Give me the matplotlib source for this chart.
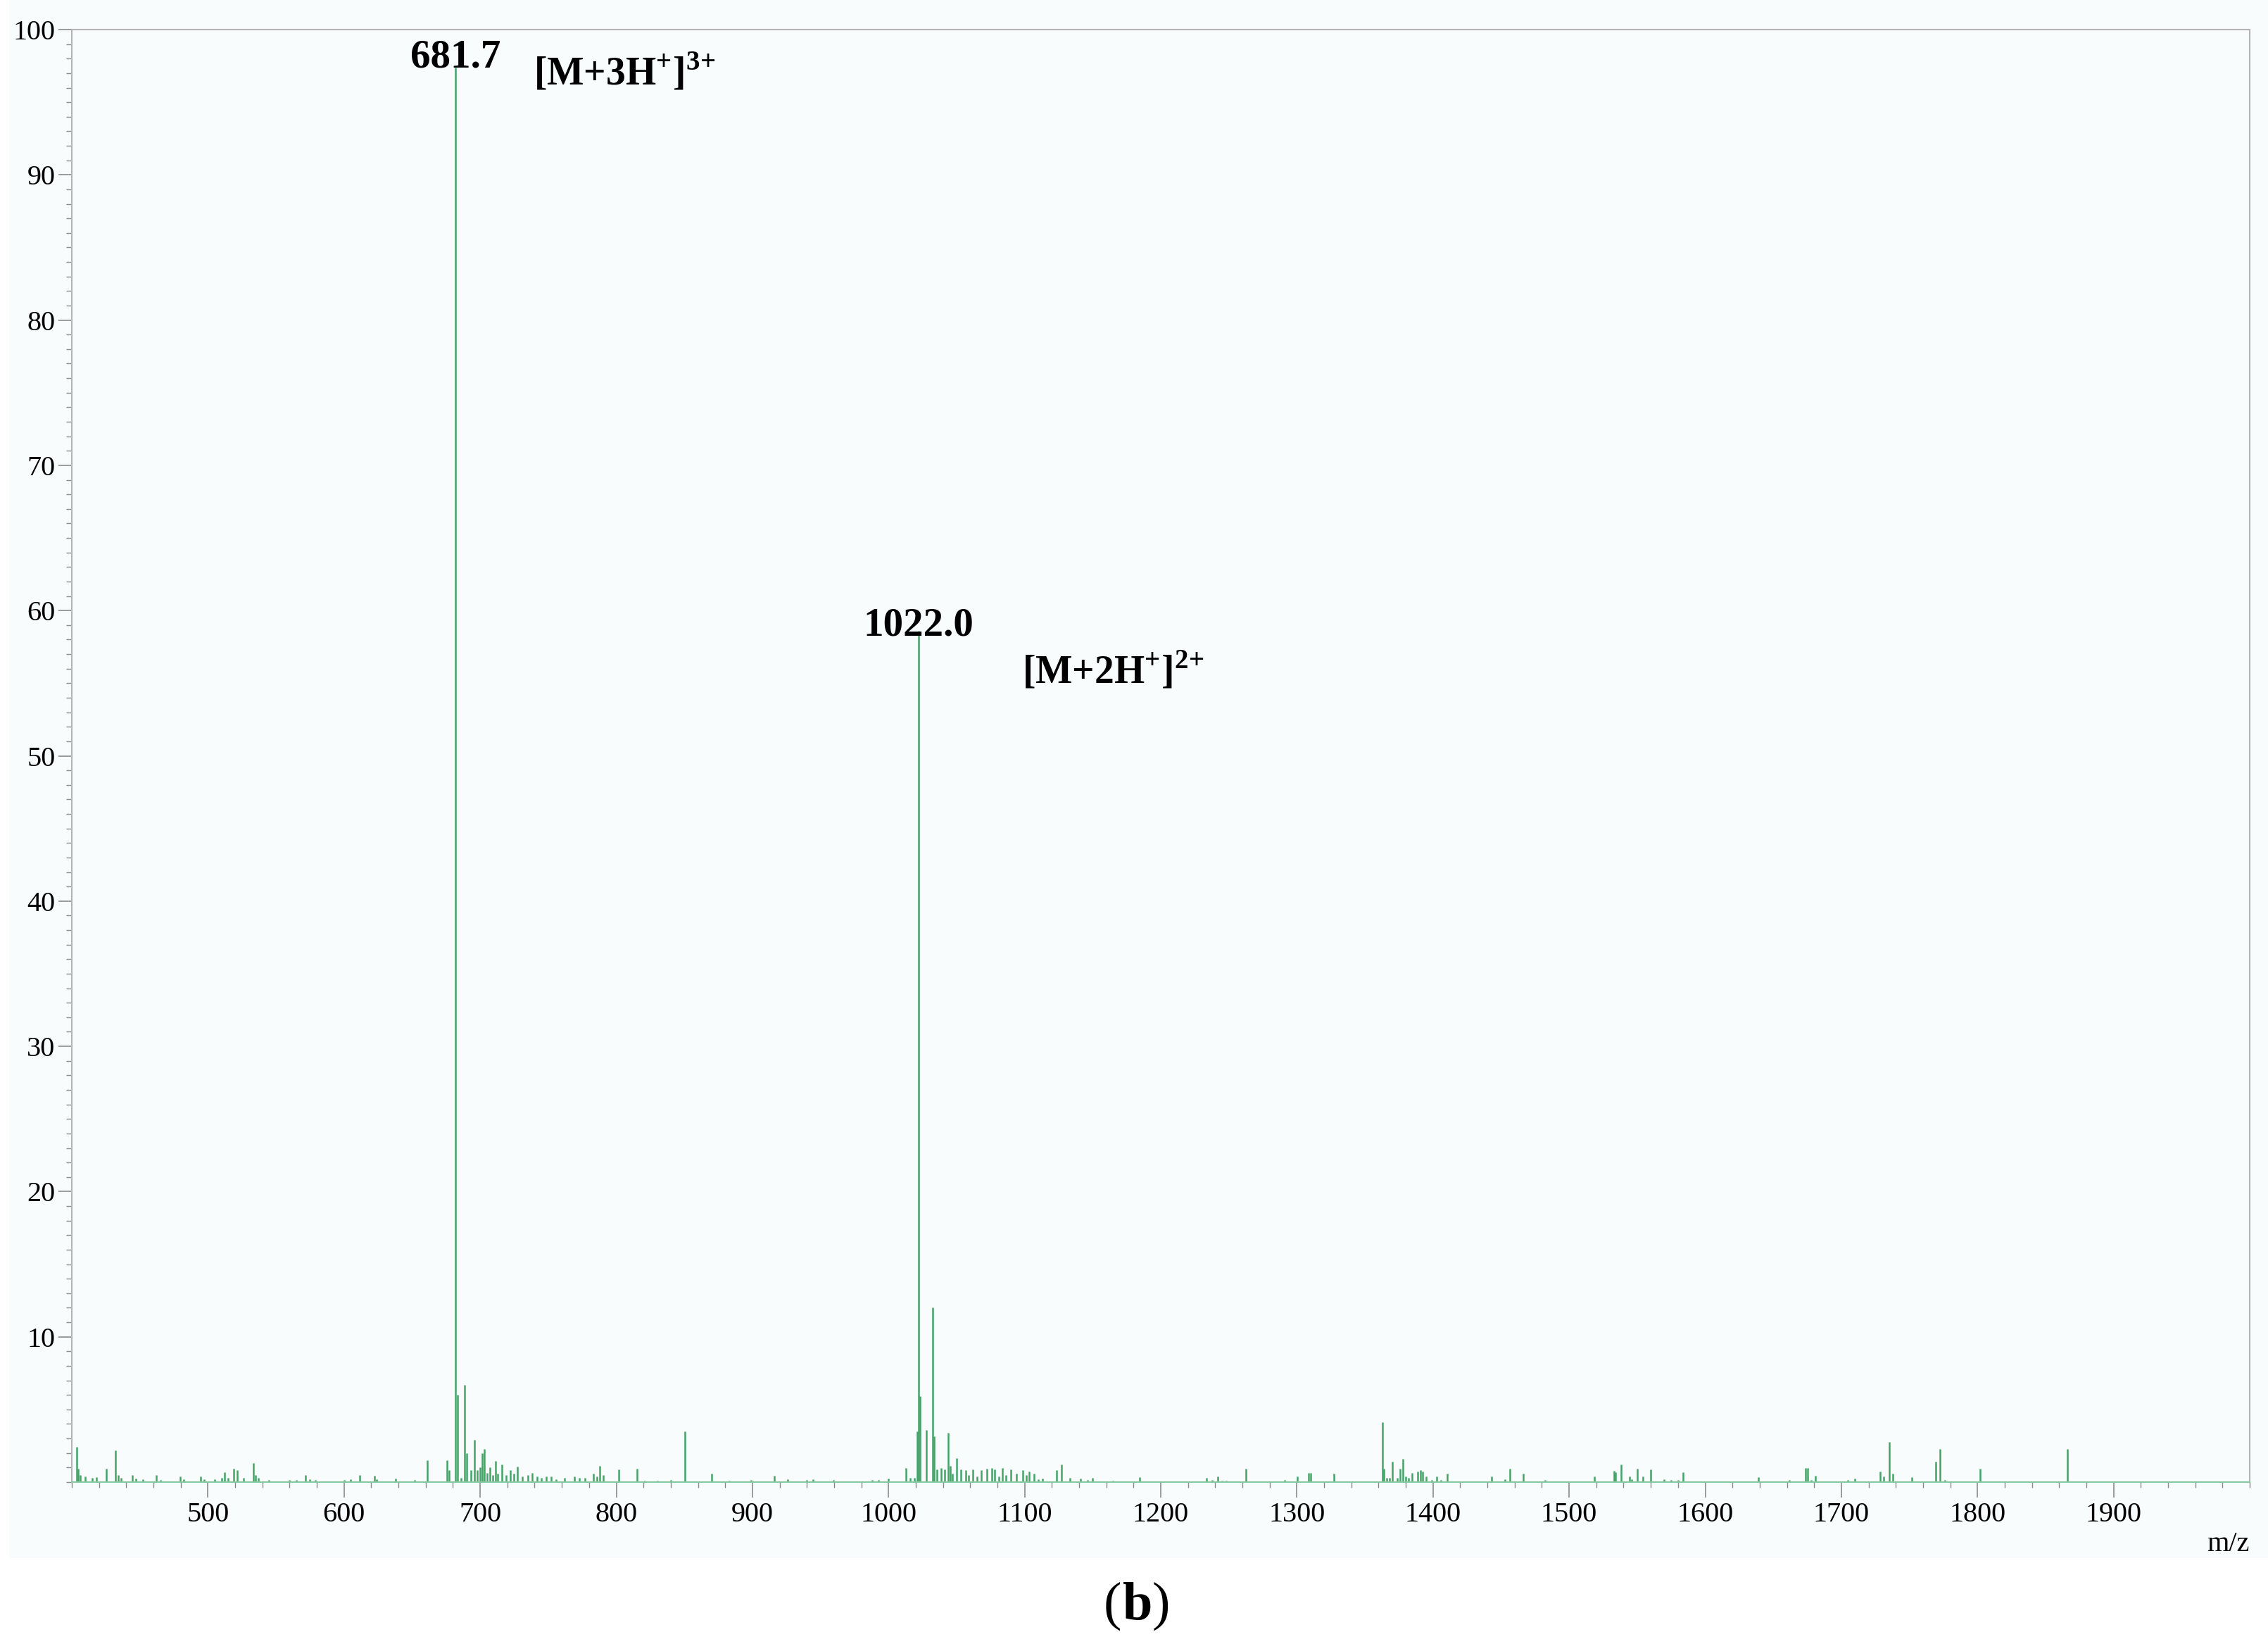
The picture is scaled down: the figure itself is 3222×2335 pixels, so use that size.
import numpy as np
import matplotlib
matplotlib.use('Agg')
import matplotlib.pyplot as plt
from matplotlib.ticker import MultipleLocator
from matplotlib.patches import Rectangle

plt.rcParams['font.family'] = ['Liberation Serif', 'DejaVu Serif']
plt.rcParams['mathtext.fontset'] = 'custom'
plt.rcParams['mathtext.rm'] = 'Liberation Serif:bold'
plt.rcParams['mathtext.bf'] = 'Liberation Serif:bold'

# peak list (m/z, relative abundance %)
mz = [403.8, 404.5, 406, 410, 415, 418, 425.3, 432.3, 434, 436, 444.4, 447, 452,
      461.8, 465, 479.8, 482, 494.8, 497, 505, 510, 512.4, 515, 519.1, 521.7, 526,
      533.4, 535, 537, 545, 560, 565, 571.9, 575, 579, 600, 605, 611.7, 622.6, 624,
      638, 652, 661.3, 675.8, 677, 681.7, 683.3, 686, 688.8, 690, 693, 696, 698, 700,
      701.7, 703.2, 705, 707, 709, 711.5, 713, 716, 719, 722, 725, 727.5, 731, 735,
      738.4, 742, 745, 748.7, 752, 756, 762, 769.4, 773, 777, 783.4, 786, 788, 790.6,
      802, 815.4, 821, 830, 840, 850.3, 870.2, 883, 899, 916.2, 926, 940, 944.4,
      959.7, 988, 992.5, 999.7, 1012.6, 1016, 1019, 1021.0, 1022.0, 1023.4, 1028,
      1032.3, 1033.5, 1035.4, 1038.8, 1041.4, 1043.8, 1045.3, 1047, 1049.9, 1053,
      1056.9, 1059, 1062, 1065, 1068.3, 1072.4, 1076, 1078.1, 1081, 1083.8, 1086,
      1089.8, 1094.1, 1098.8, 1101, 1103.2, 1107, 1110, 1113.3, 1123.6, 1127, 1133.2,
      1140.9, 1146, 1149.9, 1164.9, 1184.6, 1233.7, 1238, 1242, 1245, 1248, 1262.7,
      1291.1, 1300.2, 1308.4, 1310.2, 1327.1, 1362.9, 1364, 1366, 1368, 1370.2, 1374,
      1376, 1377.7, 1380, 1382, 1384.7, 1388.6, 1390.6, 1392.4, 1395, 1399, 1402.8,
      1406, 1410.6, 1442.9, 1453, 1456.3, 1466.5, 1482.5, 1518.6, 1532.9, 1534,
      1538.1, 1544.3, 1546, 1550.1, 1554, 1559.7, 1570, 1575, 1580, 1583.6, 1638.9,
      1661.7, 1673.6, 1675.3, 1678, 1681, 1704.6, 1709.7, 1728.6, 1731, 1735.3,
      1737.7, 1752, 1769.5, 1772.4, 1776, 1801.7, 1866.2]
abund = [2.4, 0.9, 0.5, 0.4, 0.3, 0.35, 0.9, 2.2, 0.5, 0.3, 0.5, 0.25, 0.2,
         0.5, 0.15, 0.4, 0.2, 0.4, 0.2, 0.2, 0.3, 0.7, 0.3, 0.9, 0.8, 0.3,
         1.3, 0.5, 0.3, 0.15, 0.15, 0.15, 0.5, 0.2, 0.15, 0.15, 0.2, 0.5, 0.45, 0.2,
         0.25, 0.16, 1.5, 1.5, 0.8, 97.4, 6.0, 0.3, 6.7, 2.0, 0.8, 2.9, 0.8, 1.0,
         2.0, 2.26, 0.65, 1.0, 0.5, 1.45, 0.6, 1.2, 0.5, 0.8, 0.6, 1.08, 0.4, 0.5,
         0.65, 0.4, 0.3, 0.4, 0.4, 0.2, 0.3, 0.4, 0.3, 0.3, 0.56, 0.4, 1.1, 0.5,
         0.86, 0.9, 0.1, 0.1, 0.15, 3.5, 0.6, 0.1, 0.16, 0.44, 0.2, 0.15, 0.2,
         0.16, 0.15, 0.16, 0.24, 0.97, 0.3, 0.3, 3.5, 58.6, 5.9, 3.6,
         12.0, 3.15, 0.89, 0.97, 0.89, 3.4, 1.13, 0.6, 1.66, 0.89,
         0.81, 0.5, 0.89, 0.4, 0.81, 0.92, 0.97, 0.89, 0.4, 0.97, 0.5,
         0.89, 0.56, 0.84, 0.5, 0.73, 0.56, 0.2, 0.24, 0.81, 1.2, 0.27,
         0.24, 0.15, 0.29, 0.11, 0.32, 0.3, 0.15, 0.4, 0.12, 0.12, 0.92,
         0.16, 0.4, 0.65, 0.65, 0.6, 4.1, 0.9, 0.3, 0.3, 1.4, 0.3,
         0.9, 1.6, 0.4, 0.3, 0.65, 0.73, 0.8, 0.73, 0.4, 0.15, 0.4,
         0.15, 0.6, 0.4, 0.2, 0.9, 0.6, 0.16, 0.4, 0.76, 0.7,
         1.2, 0.4, 0.2, 0.92, 0.4, 0.86, 0.2, 0.15, 0.15, 0.7, 0.32,
         0.16, 0.97, 0.97, 0.15, 0.44, 0.16, 0.24, 0.73, 0.37, 2.75,
         0.6, 0.32, 1.4, 2.3, 0.16, 0.92, 2.3]

x_ticks = [500, 600, 700, 800, 900, 1000, 1100, 1200, 1300, 1400, 1500, 1600, 1700, 1800, 1900]
y_ticks = [10, 20, 30, 40, 50, 60, 70, 80, 90, 100]

W, H = 3222, 2335
fig = plt.figure(figsize=(W / 100, H / 100), dpi=100, facecolor='white')
# light tinted screenshot area behind the chart
bg = Rectangle((0.004, 1 - 2213 / H), 0.996, 2213 / H, transform=fig.transFigure,
               facecolor='#f8fcfc', edgecolor='none', zorder=-10)
fig.add_artist(bg)

ax = fig.add_axes([102 / W, 1 - 2105 / H, (3196 - 102) / W, (2105 - 42) / H])
ax.set_zorder(1)
ax.set_facecolor('#f8fcfc')

ax.vlines(mz, 0, abund, color='#44a366', linewidth=1.8)

ax.set_xlim(400, 2000)
ax.set_ylim(0, 100)
ax.set_xticks(x_ticks)
ax.set_yticks(y_ticks)
ax.xaxis.set_minor_locator(MultipleLocator(20))
ax.yaxis.set_minor_locator(MultipleLocator(1))

for side in ['left', 'top', 'right']:
    ax.spines[side].set_color('#b5b5b5')
    ax.spines[side].set_linewidth(1.5)
ax.spines['bottom'].set_color('#86c9a0')
ax.spines['bottom'].set_linewidth(1.5)

ax.tick_params(axis='x', which='major', direction='out', length=16, width=1.2,
               color='#8a8a8a', labelsize=29, pad=4)
ax.tick_params(axis='x', which='minor', direction='out', length=6, width=1.0,
               color='#8a8a8a')
ax.tick_params(axis='y', which='major', direction='out', length=14, width=1.2,
               color='#8a8a8a', labelsize=29, pad=3)
ax.tick_params(axis='y', which='minor', direction='out', length=6, width=1.0,
               color='#8a8a8a')

# peak annotations
ax.text(681.7, 97.4, '681.7', ha='center', va='baseline', fontsize=41, fontweight='bold')
ax.text(739, 96.2, r'[M+3H$^{+}$]$^{3{+}}$', ha='left', va='baseline', fontsize=40, fontweight='bold')
ax.text(1022.0, 58.3, '1022.0', ha='center', va='baseline', fontsize=41, fontweight='bold')
ax.text(1098, 55.0, r'[M+2H$^{+}$]$^{2{+}}$', ha='left', va='baseline', fontsize=40, fontweight='bold')

fig.text(3196 / W, 1 - 2203 / H, 'm/z', ha='right', va='baseline', fontsize=29)
# caption "(b)": regular parentheses around a bold letter
cap_y = 1 - 2300 / H
fig.text((1615 - 22) / W, cap_y, '(', ha='right', va='baseline', fontsize=55)
fig.text(1615 / W, cap_y, 'b', ha='center', va='baseline', fontsize=55, fontweight='bold')
fig.text((1615 + 22) / W, cap_y, ')', ha='left', va='baseline', fontsize=55)

fig.savefig('out.png', dpi=100, facecolor=fig.get_facecolor())
